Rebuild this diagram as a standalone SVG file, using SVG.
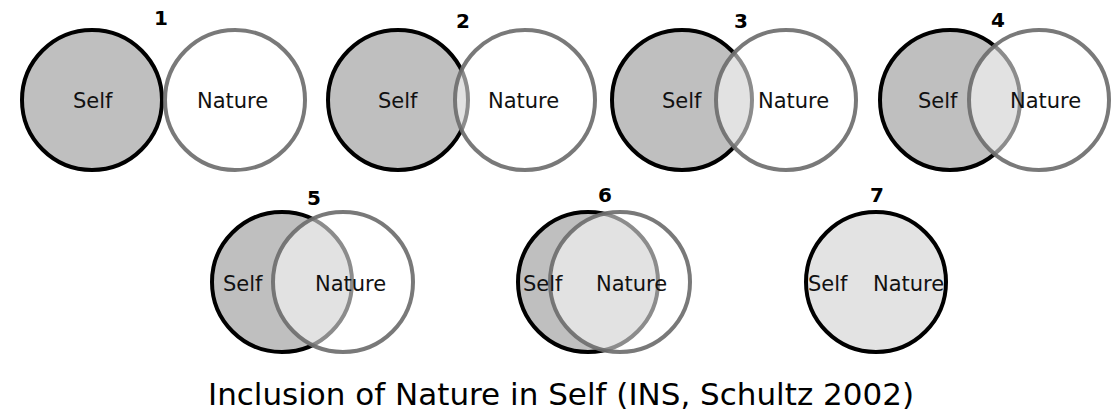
<svg xmlns="http://www.w3.org/2000/svg" width="1111" height="412" viewBox="0 0 1111 412">
<style>
.self{fill:#bfbfbf;stroke:#000;stroke-width:4}
.nat{fill:#fff;fill-opacity:0.55;stroke:#6e6e6e;stroke-opacity:0.92;stroke-width:4}
.one{fill:#e3e3e3;stroke:#000;stroke-width:4}
.lbl{font-family:"DejaVu Sans",sans-serif;font-size:21px;fill:#111}
.num{font-family:"DejaVu Sans",sans-serif;font-size:20px;font-weight:bold;fill:#000;text-anchor:middle}
.title{font-family:"DejaVu Sans",sans-serif;font-size:31px;fill:#000}
</style>
<rect width="1111" height="412" fill="#fff"/>
<g id="panel1">
<circle class="self" cx="92" cy="100" r="70"/>
<circle class="nat" cx="235" cy="100" r="70"/>
<text class="num" x="161" y="25">1</text>
<text class="lbl" x="73" y="108">Self</text>
<text class="lbl" x="197" y="108">Nature</text>
</g>
<g id="panel2">
<circle class="self" cx="398" cy="100" r="70"/>
<circle class="nat" cx="525" cy="100" r="70"/>
<text class="num" x="463" y="28">2</text>
<text class="lbl" x="378" y="108">Self</text>
<text class="lbl" x="488" y="108">Nature</text>
</g>
<g id="panel3">
<circle class="self" cx="682" cy="100" r="70"/>
<circle class="nat" cx="786" cy="100" r="70"/>
<text class="num" x="741" y="28">3</text>
<text class="lbl" x="662" y="108">Self</text>
<text class="lbl" x="758" y="108">Nature</text>
</g>
<g id="panel4">
<circle class="self" cx="950" cy="100" r="70"/>
<circle class="nat" cx="1039" cy="100" r="70"/>
<text class="num" x="998" y="27">4</text>
<text class="lbl" x="918" y="108">Self</text>
<text class="lbl" x="1010" y="108">Nature</text>
</g>
<g id="panel5">
<circle class="self" cx="282" cy="282" r="70"/>
<circle class="nat" cx="343" cy="282" r="70"/>
<text class="num" x="314" y="205">5</text>
<text class="lbl" x="223" y="291">Self</text>
<text class="lbl" x="315" y="291">Nature</text>
</g>
<g id="panel6">
<circle class="self" cx="588" cy="282" r="70"/>
<circle class="nat" cx="620" cy="282" r="70"/>
<text class="num" x="605" y="202">6</text>
<text class="lbl" x="523" y="291">Self</text>
<text class="lbl" x="596" y="291">Nature</text>
</g>
<g id="panel7">
<circle class="one" cx="876" cy="282" r="70"/>
<text class="num" x="877" y="202">7</text>
<text class="lbl" x="808" y="291">Self</text>
<text class="lbl" x="873" y="291">Nature</text>
</g>
<g id="connectors"/>
<text class="title" x="208" y="405">Inclusion of Nature in Self (INS, Schultz 2002)</text>
</svg>
